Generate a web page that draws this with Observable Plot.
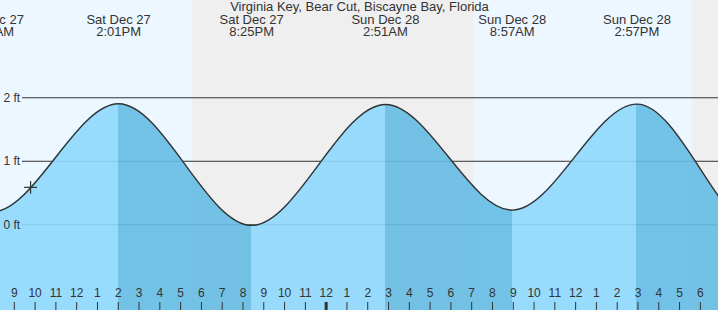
<!DOCTYPE html>
<html>
<head>
<meta charset="utf-8">
<script src="https://cdn.jsdelivr.net/npm/d3@7"></script>
<script src="https://cdn.jsdelivr.net/npm/@observablehq/plot@0.6"></script>
<style>
  html, body { margin: 0; padding: 0; background: #fff; }
  svg { display: block; }
</style>
</head>
<body>
<script>
// ---- data ----
const stationName = "Virginia Key, Bear Cut, Biscayne Bay, Florida";

// tide extremes (local time) and heights in ft; first and last lie outside the view
const tideTimes = [
  "2025-12-27T01:40", "2025-12-27T07:55", "2025-12-27T14:01", "2025-12-27T20:25",
  "2025-12-28T02:51", "2025-12-28T08:57", "2025-12-28T14:57", "2025-12-28T21:10",
  "2025-12-29T03:35"
];
const tideHeights = [1.75, 0.20, 1.905, -0.01, 1.895, 0.23, 1.90, -0.20, 1.85];

// which extremes get a label at the top
const labeledTimes = [
  "2025-12-27T07:55", "2025-12-27T14:01", "2025-12-27T20:25",
  "2025-12-28T02:51", "2025-12-28T08:57", "2025-12-28T14:57"
];

// daylight / night intervals
const dayStarts   = ["2025-12-27T07:06", "2025-12-28T07:07"];
const dayEnds     = ["2025-12-27T17:35", "2025-12-28T17:39"];
const nightStarts = ["2025-12-27T17:35", "2025-12-28T17:39"];
const nightEnds   = ["2025-12-28T07:07", "2025-12-29T07:08"];

// current time marker
const nowTime = "2025-12-27T09:47";
const nowHeight = 0.59;

// view window and height axis
const viewStart = "2025-12-27T08:20:10";
const viewEnd = "2025-12-28T18:52:20";
const yDomain = [-1.35, 3.532];
const yTickValues = [0, 1, 2];
const yTickLabels = ["0 ft", "1 ft", "2 ft"];

// colours
const dayColor = "#edf7ff";
const nightColor = "#efefef";
const risingColor = "#8ed8fd";
const fallingColor = "#65bce4";
const inkColor = "#333333";

// ---- build tables ----
const parse = s => new Date(s);
const tide = tideTimes.map((t, i) => ({time: parse(t), height: tideHeights[i]}));
const events = tide.filter(d => labeledTimes.some(s => +parse(s) === +d.time));
const days = dayStarts.map((s, i) => ({start: parse(s), end: parse(dayEnds[i])}));
const nights = nightStarts.map((s, i) => ({start: parse(s), end: parse(nightEnds[i])}));
const xDomain = [parse(viewStart), parse(viewEnd)];
const hourTicks = d3.timeHour.range(xDomain[0], xDomain[1]);
const yTicks = yTickValues.map((v, i) => ({v, label: yTickLabels[i]}));

const fmtDay = d3.timeFormat("%a %b %d");
const fmtTime = d3.timeFormat("%-I:%M%p");
const font = "Liberation Sans, Arial, Helvetica, sans-serif";

const chart = Plot.plot({
  width: 718,
  height: 310,
  margin: 0,
  style: {fontFamily: font, background: dayColor, overflow: "hidden"},
  x: {type: "time", domain: xDomain, axis: null},
  y: {domain: yDomain, axis: null},
  marks: [
    Plot.rect(days, {x1: "start", x2: "end", y1: yDomain[0], y2: yDomain[1], fill: dayColor, clip: true}),
    Plot.rect(nights, {x1: "start", x2: "end", y1: yDomain[0], y2: yDomain[1], fill: nightColor, clip: true}),
    Plot.ruleY(yTicks, {y: "v", stroke: inkColor, strokeWidth: 1, insetLeft: 22}),
    Plot.areaY(tide, {
      x: "time", y1: yDomain[0], y2: "height", curve: "monotone-x",
      fill: "url(#tideFill)", fillOpacity: 0.9, clip: true
    }),
    Plot.lineY(tide, {
      x: "time", y: "height", curve: "monotone-x",
      stroke: inkColor, strokeWidth: 1.4, clip: true
    }),
    Plot.dot([{time: parse(nowTime), height: nowHeight}], {
      x: "time", y: "height", symbol: "plus", r: 4.2, stroke: inkColor, strokeWidth: 1.2
    }),
    Plot.text(yTicks, {
      y: "v", text: "label", frameAnchor: "left", textAnchor: "start", dx: 3,
      fill: inkColor, fontSize: 12
    }),
    Plot.tickX(hourTicks, {
      x: d => d, insetTop: 302, stroke: inkColor,
      strokeWidth: d => d.getHours() === 0 ? 3 : 1
    }),
    Plot.text(hourTicks, {
      x: d => d, text: d => String(d.getHours() % 12 || 12),
      frameAnchor: "bottom", dy: -14, fill: inkColor, fontSize: 12
    }),
    Plot.text(events, {
      x: "time", text: d => fmtDay(d.time) + "\n" + fmtTime(d.time),
      frameAnchor: "top", lineAnchor: "top", dy: 15, lineHeight: 0.9,
      fill: inkColor, fontSize: 13
    }),
    Plot.text([stationName], {
      text: d => d, frameAnchor: "top", lineAnchor: "top", dy: 1.5,
      fill: inkColor, fontSize: 13
    })
  ]
});

// gradient: darker fill while the tide is falling (high -> next low), positions from the x scale
const xs = chart.scale("x");
const W = 718;
const defs = d3.select(chart).insert("defs", ":first-child");
const grad = defs.append("linearGradient")
  .attr("id", "tideFill")
  .attr("gradientUnits", "userSpaceOnUse")
  .attr("x1", 0).attr("x2", W).attr("y1", 0).attr("y2", 0);
for (let i = 0; i < tide.length - 1; i++) {
  const c = tide[i].height > tide[i + 1].height ? fallingColor : risingColor;
  const o1 = Math.max(0, Math.min(1, xs.apply(tide[i].time) / W));
  const o2 = Math.max(0, Math.min(1, xs.apply(tide[i + 1].time) / W));
  grad.append("stop").attr("offset", o1).attr("stop-color", c);
  grad.append("stop").attr("offset", o2).attr("stop-color", c);
}

document.body.appendChild(chart);
</script>
</body>
</html>
